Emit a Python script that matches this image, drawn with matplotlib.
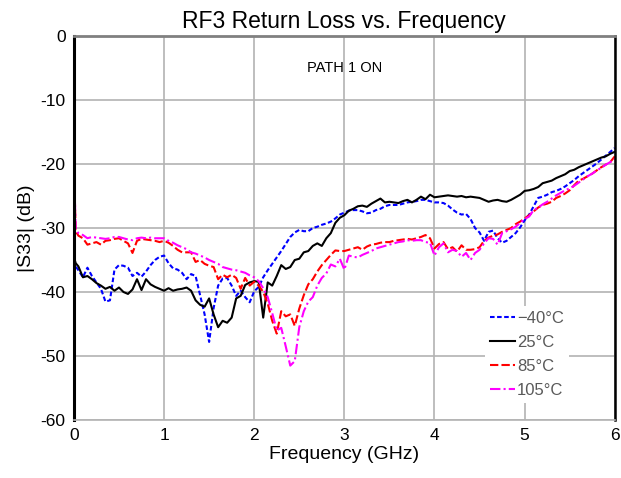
import numpy as np
import matplotlib
matplotlib.use("Agg")
import matplotlib.pyplot as plt

plt.rcParams['font.family'] = ['Liberation Sans', 'DejaVu Sans']
plt.rcParams['axes.unicode_minus'] = False

# Frequency grid (GHz): two points for the spike at DC, then 0.05 GHz steps
freq = np.concatenate([[0.0, 0.02], np.round(np.arange(0.05, 6.001, 0.05), 2)])

# |S33| (dB)
s_m40 = [-35.0, -36.0,
         -36.6, -37.7, -36.2, -37.5, -38.5, -39.5, -41.5, -41.3, -36.5, -35.8,
         -35.9, -36.2, -37.5, -37.0, -37.6, -36.8, -35.8, -35.0, -34.5, -34.3,
         -35.5, -36.3, -36.5, -37.0, -38.0, -37.2, -37.5, -40.5, -43.5, -47.8,
         -42.5, -39.0, -37.9, -37.8, -39.0, -40.6, -39.8, -40.8, -41.6, -39.9,
         -39.2, -37.7, -36.6, -35.6, -34.6, -33.6, -32.5, -31.4, -30.7, -30.3,
         -30.5, -30.5, -30.0, -29.8, -29.5, -29.3, -29.0, -28.5, -27.9, -27.6,
         -27.3, -27.2, -27.2, -27.4, -27.7, -27.6, -27.2, -27.0, -26.6, -26.4,
         -26.4, -26.4, -26.2, -26.0, -25.9, -25.8, -25.6, -25.6, -25.8, -26.0,
         -26.0, -26.1, -26.5, -27.1, -27.6, -27.9, -27.8, -28.6, -30.0, -30.7,
         -32.0, -30.6, -30.4, -31.6, -32.3, -32.0, -31.4, -30.8, -29.9, -28.8,
         -27.9, -26.6, -25.3, -25.1, -24.8, -24.4, -24.2, -23.9, -23.5, -23.0,
         -22.5, -21.9, -21.4, -20.9, -20.4, -19.9, -19.3, -18.7, -18.1, -17.5]

s_25 = [-34.5, -35.5,
        -36.0, -37.7, -37.5, -38.0, -38.6, -39.0, -39.5, -39.2, -39.8, -39.3,
        -40.0, -40.3, -39.6, -38.0, -39.7, -38.0, -38.8, -39.2, -39.5, -39.8,
        -39.4, -39.8, -39.6, -39.5, -39.3, -39.8, -41.3, -42.0, -42.3, -41.0,
        -43.5, -45.5, -44.5, -44.8, -44.0, -41.0, -40.6, -38.9, -38.5, -38.3,
        -38.4, -44.0, -38.5, -39.0, -37.5, -35.8, -36.4, -36.1, -35.0, -34.8,
        -33.8, -33.6, -32.8, -32.4, -32.8, -31.6, -30.8, -29.2, -28.4, -28.0,
        -27.3, -27.0, -26.6, -26.5, -26.7, -26.2, -25.8, -25.4, -26.0, -25.9,
        -26.0, -26.1, -25.8, -25.6, -26.0, -25.6, -25.1, -25.5, -24.8, -25.2,
        -25.1, -25.0, -24.9, -25.0, -25.1, -25.0, -25.2, -25.1, -25.2, -25.3,
        -25.6, -25.9, -25.7, -25.6, -25.8, -25.9, -25.6, -25.2, -24.8, -24.2,
        -24.1, -23.9, -23.6, -23.0, -22.8, -22.6, -22.2, -21.9, -21.6, -21.1,
        -20.9, -20.5, -20.2, -19.9, -19.6, -19.3, -19.0, -18.8, -18.4, -18.1]

s_85 = [-20.0, -30.5,
        -31.2, -31.6, -32.6, -32.4, -32.2, -32.6, -32.0, -31.9, -31.7, -31.6,
        -32.0, -32.4, -33.9, -32.0, -31.7, -31.8, -31.9, -32.0, -32.2, -32.0,
        -32.3, -32.8, -33.4, -33.8, -33.8, -33.8, -35.3, -35.0, -35.6, -35.9,
        -36.1, -38.0, -37.3, -37.7, -37.3, -37.8, -39.5, -37.8, -39.0, -38.4,
        -39.0, -40.0, -41.8, -44.5, -46.5, -43.0, -43.8, -43.5, -45.3, -42.6,
        -40.5, -38.8, -38.0, -36.8, -35.8, -35.0, -34.2, -33.5, -33.6, -33.6,
        -33.4, -33.2, -33.0, -33.4, -32.9, -32.6, -32.5, -32.3, -32.2, -32.2,
        -32.0, -31.9, -31.8, -31.7, -31.8, -31.6, -31.4, -31.1, -31.6, -33.2,
        -32.5, -32.2, -33.3, -33.0, -33.7, -32.7, -33.4, -33.4, -33.3, -33.0,
        -32.0, -31.5, -31.2, -31.0, -30.6, -30.3, -30.0, -29.4, -29.0, -28.5,
        -28.0, -27.4, -26.8, -26.4, -26.2, -25.9, -25.3, -25.0, -24.6, -24.1,
        -23.3, -22.6, -22.3, -21.9, -21.5, -21.0, -20.5, -20.1, -19.7, -18.8]

s_105 = [-19.8, -30.2,
         -30.8, -31.1, -31.6, -31.4, -31.5, -31.6, -31.7, -31.6, -31.4, -31.4,
         -31.6, -31.8, -31.9, -31.6, -31.5, -31.6, -31.5, -31.6, -31.6, -31.6,
         -32.0, -32.3, -32.7, -33.0, -33.3, -33.8, -34.0, -34.3, -34.6, -35.0,
         -35.3, -35.6, -36.1, -36.3, -36.5, -36.6, -36.8, -37.0, -37.4, -37.7,
         -38.3, -39.4, -40.8, -43.3, -46.0, -45.6, -48.5, -51.5, -50.8, -45.5,
         -43.0, -41.5, -40.8, -39.0, -37.8, -37.1, -35.7, -36.0, -34.8, -36.5,
         -34.3, -34.5, -34.6, -34.2, -33.9, -33.6, -33.2, -33.0, -32.8, -32.6,
         -32.4, -32.2, -32.1, -31.9, -32.0, -31.9, -31.9, -32.2, -32.3, -34.3,
         -33.0, -32.4, -33.8, -33.4, -33.6, -34.5, -33.9, -35.0, -33.9, -33.4,
         -32.4, -31.6, -31.7, -32.6, -30.8, -30.5, -30.2, -29.8, -29.2, -28.6,
         -28.2, -27.2, -26.8, -26.3, -25.9, -25.4, -24.9, -24.5, -24.1, -23.8,
         -23.4, -22.9, -22.4, -21.9, -21.5, -21.0, -20.6, -20.1, -19.7, -19.2]

fig = plt.figure(figsize=(6.21, 4.78), dpi=100)
ax = fig.add_axes([0.119, 0.1213, 0.871, 0.8034])

ax.plot(freq, s_m40, color='#0000ff', lw=1.5, dashes=(2.2, 1.2), label='\u221240°C')
ax.plot(freq, s_25, color='black', lw=1.5, label='25°C')
ax.plot(freq, s_85, color='#ff0000', lw=1.5, dashes=(4, 1.5), label='85°C')
ax.plot(freq, s_105, color='#ff00ff', lw=1.5, dashes=(5, 1.5, 1, 1.5), label='105°C')

ax.set_xlim(0, 6)
ax.set_ylim(-60, 0)
ax.set_xticks(range(0, 7))
ax.set_yticks(range(-60, 1, 10))
ax.grid(True, color='#b3b3b3', lw=1.2)
ax.set_axisbelow(True)
ax.tick_params(length=0, labelsize=12.5, pad=6)

ax.spines['left'].set_color('black')
ax.spines['left'].set_linewidth(2.2)
ax.spines['right'].set_color('black')
ax.spines['right'].set_linewidth(1.8)
ax.spines['top'].set_color('#808080')
ax.spines['top'].set_linewidth(2)
ax.spines['bottom'].set_color('#b3b3b3')
ax.spines['bottom'].set_linewidth(1.2)

ax.set_title('RF3 Return Loss vs. Frequency', fontsize=16.5, pad=6)
ax.set_xlabel('Frequency (GHz)', fontsize=14, labelpad=2)
ax.set_ylabel('|S33| (dB)', fontsize=14, labelpad=4)
ax.text(3.0, -5, 'PATH 1 ON', ha='center', va='center', fontsize=10.5)

leg = ax.legend(loc='lower left', bbox_to_anchor=(0.745, 0.022), frameon=True,
                fontsize=12, handlelength=1.5, handletextpad=0.1, labelspacing=0.55,
                borderpad=0.3)
leg.get_frame().set_edgecolor('none')
leg.get_frame().set_facecolor('white')
leg.get_frame().set_alpha(1)
for t in leg.get_texts():
    t.set_color('#595959')

fig.savefig('out.png', dpi=100)
